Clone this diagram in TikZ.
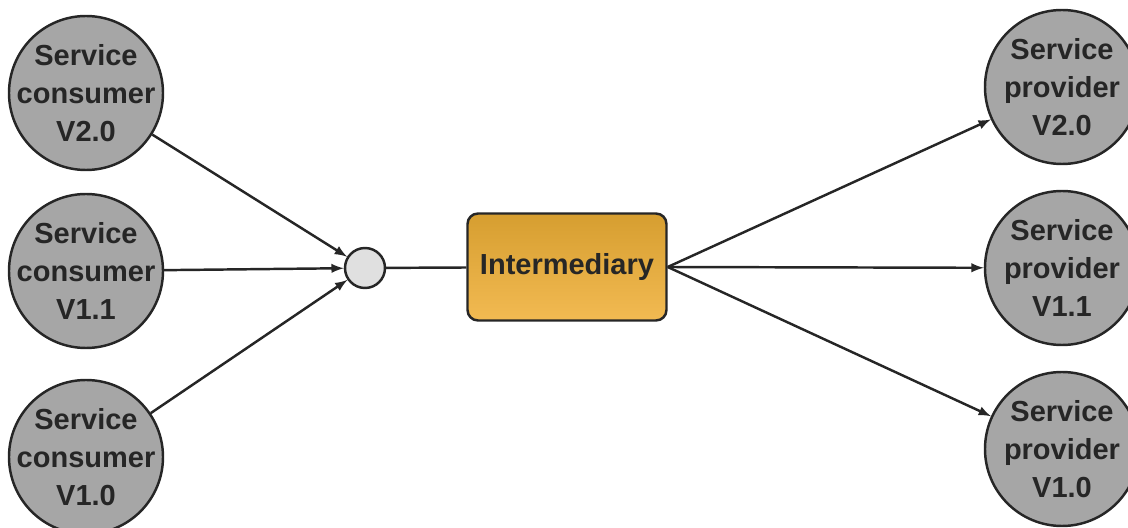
\documentclass[tikz,border=0pt]{standalone}
\usepackage{fontspec}
\setmainfont{Liberation Sans}
\usetikzlibrary{shapes}
\definecolor{gold1}{RGB}{214,158,48}
\definecolor{gold2}{RGB}{242,186,82}
\tikzstyle{svc}=[circle,draw=black!85,line width=1.4pt,fill=black!35,minimum size=3.08cm,inner sep=-9pt,align=center,font=\fontsize{16.5}{21.5}\selectfont\bfseries,text=black!85]
\tikzstyle{hub}=[circle,draw=black!85,line width=1.4pt,fill=black!12,minimum size=.8cm,inner sep=0pt]
\tikzstyle{mid}=[rectangle,rounded corners=6pt,draw=black!85,line width=1.4pt,top color=gold1,bottom color=gold2,minimum width=3.98cm,minimum height=2.14cm,font=\fontsize{16.5}{20}\selectfont\bfseries,text=black!85]
\tikzstyle{arr}=[-latex,line width=1.4pt,draw=black!85]

\begin{document}
\begin{tikzpicture}
\useasboundingbox (0,0) rectangle (22.56,10.56);
% consumers
\node[svc] (c20) at (1.72,8.70) {Service\\consumer\\V2.0};
\node[svc] (c11) at (1.72,5.14) {Service\\consumer\\V1.1};
\node[svc] (c10) at (1.72,1.42) {Service\\consumer\\V1.0};
% providers
\node[svc] (p20) at (21.24,8.82) {Service\\provider\\V2.0};
\node[svc] (p11) at (21.24,5.20) {Service\\provider\\V1.1};
\node[svc] (p10) at (21.24,1.58) {Service\\provider\\V1.0};
% middle
\node[hub] (hub) at (7.30,5.20) {};
\node[mid] (inter) at (11.34,5.22) {Intermediary};
\foreach \c in {c20,c11,c10} {\draw[arr] (\c) -- (hub);}
\draw[line width=1.4pt,black!85] (hub) -- (inter);
\foreach \p in {p20,p11,p10} {\draw[arr] (inter.east) -- (\p);}
\end{tikzpicture}
\end{document}
